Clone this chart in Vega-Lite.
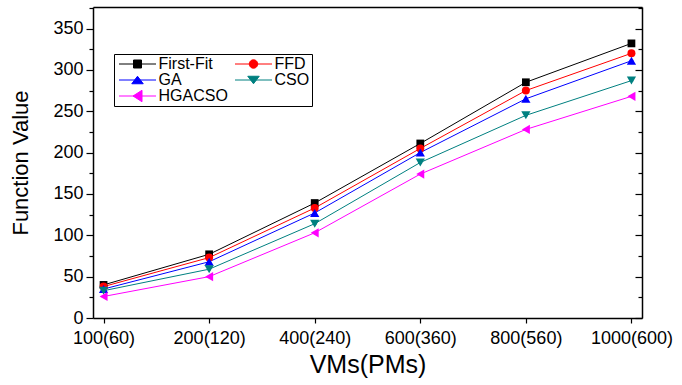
{
  "$schema": "https://vega.github.io/schema/vega-lite/v6.json",
  "width": 549,
  "height": 311,
  "autosize": {"type": "none"},
  "padding": {"left": 93, "top": 7, "right": 40, "bottom": 67},
  "background": "white",
  "config": {
    "font": "Liberation Sans",
    "view": {"stroke": null},
    "axis": {
      "domainColor": "black", "tickColor": "black", "labelColor": "black", "titleColor": "black",
      "grid": false, "labelFont": "Liberation Sans", "titleFont": "Liberation Sans",
      "titleFontWeight": "normal", "domainWidth": 1.5, "tickWidth": 1.2
    },
    "legend": {
      "orient": "none", "legendX": 21, "legendY": 47, "title": null, "columns": 2, "gridAlign": "none", "direction": "horizontal",
      "columnPadding": 4, "rowPadding": 0, "labelFontSize": 16, "labelFont": "Liberation Sans", "labelColor": "black",
      "symbolSize": 100, "symbolOffset": 13.5, "labelOffset": 13, "strokeColor": "black", "fillColor": "white", "padding": 2,
      "symbolStrokeWidth": 1, "symbolOpacity": 1
    }
  },
  "data": {"values": [
    {"vms": "100(60)", "vm": 100, "alg": "First-Fit", "value": 40},
    {"vms": "200(120)", "vm": 200, "alg": "First-Fit", "value": 77},
    {"vms": "400(240)", "vm": 400, "alg": "First-Fit", "value": 139},
    {"vms": "600(360)", "vm": 600, "alg": "First-Fit", "value": 211},
    {"vms": "800(560)", "vm": 800, "alg": "First-Fit", "value": 285},
    {"vms": "1000(600)", "vm": 1000, "alg": "First-Fit", "value": 332},
    {"vms": "100(60)", "vm": 100, "alg": "FFD", "value": 38},
    {"vms": "200(120)", "vm": 200, "alg": "FFD", "value": 73},
    {"vms": "400(240)", "vm": 400, "alg": "FFD", "value": 133},
    {"vms": "600(360)", "vm": 600, "alg": "FFD", "value": 205},
    {"vms": "800(560)", "vm": 800, "alg": "FFD", "value": 275},
    {"vms": "1000(600)", "vm": 1000, "alg": "FFD", "value": 320},
    {"vms": "100(60)", "vm": 100, "alg": "GA", "value": 35},
    {"vms": "200(120)", "vm": 200, "alg": "GA", "value": 68},
    {"vms": "400(240)", "vm": 400, "alg": "GA", "value": 127},
    {"vms": "600(360)", "vm": 600, "alg": "GA", "value": 200},
    {"vms": "800(560)", "vm": 800, "alg": "GA", "value": 265},
    {"vms": "1000(600)", "vm": 1000, "alg": "GA", "value": 311},
    {"vms": "100(60)", "vm": 100, "alg": "CSO", "value": 33},
    {"vms": "200(120)", "vm": 200, "alg": "CSO", "value": 59},
    {"vms": "400(240)", "vm": 400, "alg": "CSO", "value": 114},
    {"vms": "600(360)", "vm": 600, "alg": "CSO", "value": 188},
    {"vms": "800(560)", "vm": 800, "alg": "CSO", "value": 245},
    {"vms": "1000(600)", "vm": 1000, "alg": "CSO", "value": 287},
    {"vms": "100(60)", "vm": 100, "alg": "HGACSO", "value": 26},
    {"vms": "200(120)", "vm": 200, "alg": "HGACSO", "value": 50},
    {"vms": "400(240)", "vm": 400, "alg": "HGACSO", "value": 103},
    {"vms": "600(360)", "vm": 600, "alg": "HGACSO", "value": 174},
    {"vms": "800(560)", "vm": 800, "alg": "HGACSO", "value": 228},
    {"vms": "1000(600)", "vm": 1000, "alg": "HGACSO", "value": 268}
  ]},
  "layer": [
    {
      "mark": {"type": "point", "size": 1, "opacity": 1, "filled": true},
      "encoding": {
        "x": {"field": "vms", "type": "ordinal",
          "scale": {"type": "point", "padding": 0.1, "domain": ["100(60)", "200(120)", "400(240)", "600(360)", "800(560)", "1000(600)"]},
          "axis": {"orient": "bottom", "title": "VMs(PMs)", "labelAngle": 0, "labelFontSize": 18, "tickSize": 5, "labelPadding": 6, "titleFontSize": 25, "titlePadding": 5, "labelFlush": false}},
        "y": {"field": "value", "type": "quantitative",
          "scale": {"domain": [0, 376], "nice": false, "zero": true},
          "axis": {"orient": "left", "values": [0, 25, 50, 75, 100, 125, 150, 175, 200, 225, 250, 275, 300, 325, 350, 375],
            "labelExpr": "datum.value % 50 === 0 ? datum.label : ''",
            "tickSize": {"condition": {"test": "datum.value % 50 === 0", "value": 7}, "value": 4},
            "labelFontSize": 18, "labelPadding": 3, "title": "Function Value", "titleFontSize": 22, "titlePadding": 20}},
        "shape": {"field": "alg", "type": "nominal",
          "scale": {"domain": ["First-Fit", "FFD", "GA", "CSO", "HGACSO"],
            "range": [
              "M-3.7,0H3.7M-0.8,-0.8H0.8V0.8H-0.8Z",
              "M-3.7,0H3.7M-0.85,0A0.85,0.85,0,1,0,0.85,0A0.85,0.85,0,1,0,-0.85,0Z",
              "M-3.7,0H3.7M0,-0.75L1.15,0.75H-1.15Z",
              "M-3.7,0H3.7M0,0.75L1.15,-0.75H-1.15Z",
              "M-3.7,0H3.7M-0.9,0L0.9,-1.15V1.15Z"
            ]}},
        "fill": {"field": "alg", "type": "nominal",
          "scale": {"domain": ["First-Fit", "FFD", "GA", "CSO", "HGACSO"], "range": ["#000000", "#ff0000", "#0000ff", "#008080", "#ff00ff"]}},
        "stroke": {"field": "alg", "type": "nominal",
          "scale": {"domain": ["First-Fit", "FFD", "GA", "CSO", "HGACSO"], "range": ["#000000", "#ff0000", "#0000ff", "#008080", "#ff00ff"]}}
      }
    },
    {
      "mark": {"type": "line", "strokeWidth": 1},
      "encoding": {
        "x": {"field": "vms", "type": "ordinal", "axis": null},
        "y": {"field": "value", "type": "quantitative", "axis": null},
        "stroke": {"field": "alg", "type": "nominal"},
        "order": {"field": "vm", "type": "quantitative"}
      }
    },
    {
      "transform": [{"filter": "datum.alg === 'First-Fit'"}],
      "mark": {"type": "point", "shape": "square", "filled": true, "opacity": 1, "size": 60},
      "encoding": {
        "x": {"field": "vms", "type": "ordinal",
          "axis": {"orient": "top", "title": null, "labels": false, "ticks": false}},
        "y": {"field": "value", "type": "quantitative",
          "axis": {"orient": "right", "title": null, "labels": false,
            "values": [0, 25, 50, 75, 100, 125, 150, 175, 200, 225, 250, 275, 300, 325, 350, 375],
            "tickSize": {"condition": {"test": "datum.value % 50 === 0", "value": -7}, "value": -4}}},
        "fill": {"field": "alg", "type": "nominal"}
      }
    },
    {
      "transform": [{"filter": "datum.alg === 'FFD'"}],
      "mark": {"type": "point", "shape": "circle", "filled": true, "opacity": 1, "size": 64},
      "encoding": {
        "x": {"field": "vms", "type": "ordinal", "axis": null},
        "y": {"field": "value", "type": "quantitative", "axis": null},
        "fill": {"field": "alg", "type": "nominal"}
      }
    },
    {
      "transform": [{"filter": "datum.alg === 'GA'"}],
      "mark": {"type": "point", "shape": "triangle-up", "filled": true, "opacity": 1, "size": 85},
      "encoding": {
        "x": {"field": "vms", "type": "ordinal", "axis": null},
        "y": {"field": "value", "type": "quantitative", "axis": null},
        "fill": {"field": "alg", "type": "nominal"}
      }
    },
    {
      "transform": [{"filter": "datum.alg === 'CSO'"}],
      "mark": {"type": "point", "shape": "triangle-down", "filled": true, "opacity": 1, "size": 85},
      "encoding": {
        "x": {"field": "vms", "type": "ordinal", "axis": null},
        "y": {"field": "value", "type": "quantitative", "axis": null},
        "fill": {"field": "alg", "type": "nominal"}
      }
    },
    {
      "transform": [{"filter": "datum.alg === 'HGACSO'"}],
      "mark": {"type": "point", "shape": "triangle-left", "filled": true, "opacity": 1, "size": 85},
      "encoding": {
        "x": {"field": "vms", "type": "ordinal", "axis": null},
        "y": {"field": "value", "type": "quantitative", "axis": null},
        "fill": {"field": "alg", "type": "nominal"}
      }
    }
  ],
  "resolve": {"axis": {"x": "independent", "y": "independent"}}
}
